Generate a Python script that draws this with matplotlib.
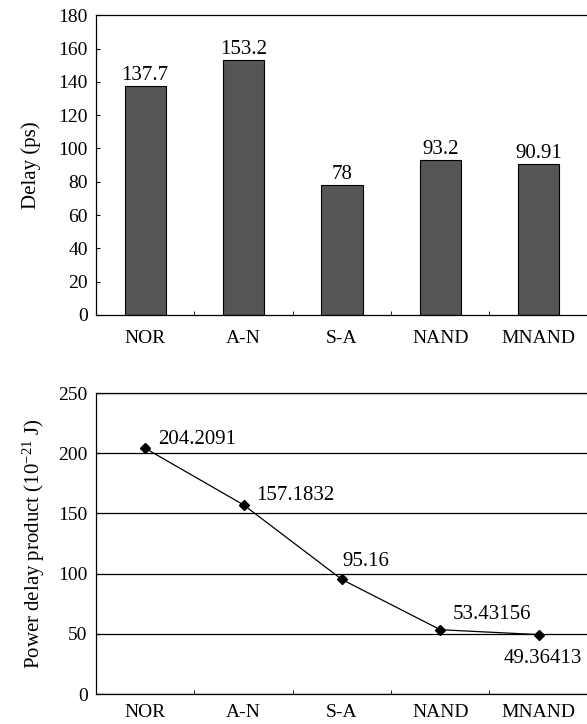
import matplotlib
matplotlib.use("Agg")
import matplotlib.pyplot as plt
import numpy as np

# chart data
categories = ["NOR", "A-N", "S-A", "NAND", "MNAND"]
delay_ps = [137.7, 153.2, 78, 93.2, 90.91]
delay_labels = ["137.7", "153.2", "78", "93.2", "90.91"]
pdp = [204.2091, 157.1832, 95.16, 53.43156, 49.36413]
pdp_labels = ["204.2091", "157.1832", "95.16", "53.43156", "49.36413"]

plt.rcParams["font.family"] = ["Liberation Serif", "DejaVu Serif"]
plt.rcParams["font.size"] = 14
plt.rcParams["mathtext.fontset"] = "custom"
plt.rcParams["mathtext.rm"] = "Liberation Serif"
plt.rcParams["mathtext.it"] = "Liberation Serif:italic"

fig = plt.figure(figsize=(5.87, 7.24), dpi=100)
x = np.arange(len(categories))

# --- top: delay bars ---
ax1 = fig.add_axes([0.1635, 0.565, 0.838, 0.414])
ax1.bar(x, delay_ps, width=0.42, color="#555555", edgecolor="black", linewidth=0.8)
for xi, v, lab in zip(x, delay_ps, delay_labels):
    ax1.annotate(lab, (xi, v), xytext=(0, 0.5), textcoords="offset points",
                 ha="center", va="bottom", fontsize=15)
ax1.set_xlim(-0.5, len(categories) - 0.5)
ax1.set_ylim(0, 180)
ax1.set_yticks(range(0, 181, 20))
ax1.set_xticks(x)
ax1.set_xticklabels(categories)
ax1.set_xticks(np.arange(0.5, len(categories) - 0.5, 1), minor=True)
ax1.tick_params(axis="x", which="major", length=0, pad=11)
ax1.tick_params(axis="x", which="minor", length=3, direction="in")
ax1.tick_params(axis="y", direction="in", length=3, pad=6)
ax1.set_ylabel("Delay (ps)", fontsize=15, labelpad=12)
for sp in ax1.spines.values():
    sp.set_linewidth(0.9)

# --- bottom: power delay product ---
ax2 = fig.add_axes([0.1635, 0.0414, 0.838, 0.4156])
ax2.plot(x, pdp, color="black", linewidth=0.9, marker="D", markersize=5.5)
offsets = [(9, 6, "left"), (9, 7, "left"), (0, 13, "left"),
           (9, 11, "left"), (3, -17, "center")]
for xi, v, lab, (dx, dy, ha) in zip(x, pdp, pdp_labels, offsets):
    ax2.annotate(lab, (xi, v), xytext=(dx, dy), textcoords="offset points",
                 ha=ha, va="center", fontsize=15)
ax2.set_xlim(-0.5, len(categories) - 0.5)
ax2.set_ylim(0, 250)
ax2.set_yticks(range(0, 251, 50))
ax2.yaxis.grid(True, color="black", linewidth=0.9)
ax2.set_xticks(x)
ax2.set_xticklabels(categories)
ax2.set_xticks(np.arange(0.5, len(categories) - 0.5, 1), minor=True)
ax2.tick_params(axis="x", which="major", length=0, pad=7)
ax2.tick_params(axis="x", which="minor", length=3, direction="in")
ax2.tick_params(axis="y", direction="in", length=3, pad=6)
ax2.set_ylabel("Power delay product (10$^{-21}$ J)", fontsize=15, labelpad=8)
for sp in ax2.spines.values():
    sp.set_linewidth(0.9)

fig.savefig("out.png", dpi=100)
